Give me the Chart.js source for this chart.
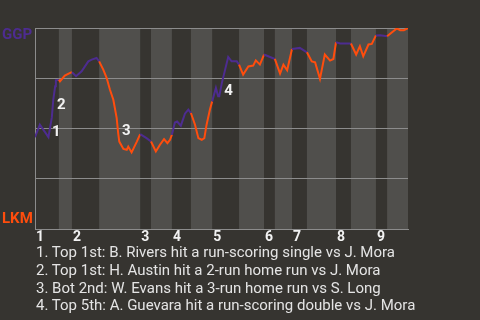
<!DOCTYPE html>
<html>
<head>
<meta charset="utf-8">
<script src="https://cdn.jsdelivr.net/npm/chart.js@4.4.1/dist/chart.umd.min.js"></script>
<style>
  html, body { margin: 0; padding: 0; background: #363430; }
  #wrap { position: relative; width: 480px; height: 320px; overflow: hidden; }
  #notes { position: absolute; left: 36px; top: 244px; font: 15px Roboto, sans-serif; color: #e4e4e4; line-height: 17.8px; white-space: nowrap; }
</style>
</head>
<body>
<div id="wrap">
  <canvas id="wp" width="480" height="320"></canvas>
  <div id="notes"></div>
</div>
<script>
// game progress (0..100) and GGP win probability (%)
const playIdx = [0, 1.3, 3.6, 4.5, 4.9, 5.4, 5.6, 6.4, 6.7, 8.0, 9.4, 9.9, 11.0, 12.5, 14.3, 15.2, 16.5, 17.2,
  18.3, 19.2, 20.1, 21.0, 21.9, 22.3, 22.6, 23.7, 24.6, 25.0, 25.9, 27.3, 28.2, 29.9, 31.1, 32.4, 33.5, 34.6,
  35.5, 36.2, 36.7, 37.5, 38.1, 39.1, 40.2, 41.1, 41.8, 42.9, 43.8, 44.7, 45.4, 46.0, 46.9, 47.5, 48.5, 49.1,
  49.4, 50.1, 51.8, 52.7, 54.1, 54.7, 55.8, 57.2, 58.5, 59.2, 60.3, 61.4, 64.3, 65.7, 66.6, 67.6, 68.9, 71.0,
  72.9, 74.2, 75.1, 76.4, 77.7, 79.1, 80.0, 80.7, 81.8, 84.7, 86.1, 87.1, 88.0, 89.4, 90.3, 91.4, 92.5, 94.4,
  97.0, 97.9, 98.9, 100];
const ggpWinPct = [45.7, 51.9, 45.7, 55.4, 64.3, 71.0, 74.0, 74.3, 73.5, 76.3, 77.7, 78.0, 76.0, 78.5, 83.4, 84.3, 85.1, 83.4,
  79.3, 75.2, 69.3, 64.3, 55.2, 47.7, 43.5, 39.8, 39.4, 41.0, 38.1, 43.5, 47.2, 45.2, 43.5, 38.6, 41.9, 44.7,
  42.7, 44.4, 46.9, 53.0, 53.5, 51.4, 57.4, 59.4, 57.7, 51.9, 45.2, 44.4, 45.2, 51.9, 59.4, 63.5, 70.2, 66.0,
  66.0, 72.7, 85.6, 83.4, 83.4, 81.8, 76.8, 80.9, 81.3, 83.9, 81.8, 86.8, 84.6, 77.3, 81.8, 79.0, 89.6, 90.1,
  87.9, 83.4, 82.9, 74.7, 86.8, 83.8, 84.6, 92.9, 92.3, 92.3, 86.8, 90.9, 85.9, 91.8, 92.1, 96.3, 96.4, 95.9,
  99.8, 98.9, 98.9, 100];

// where each half inning starts (top 1st, bot 1st, top 2nd, ...)
const halfStarts = [0, 6.4, 9.9, 17.2, 28.2, 31.1, 36.7, 41.8, 47.5, 54.7, 61.4, 64.3, 68.9, 72.9, 80.7, 84.7, 91.4, 94.4];
const gameEnd = 100;
const inningLabels = ['1', '2', '3', '4', '5', '6', '7', '8', '9'];

// big plays
const notePlay = [3.75, 5.1, 22.5, 49.9];
const notePct = [47.9, 61.8, 48.4, 68.3];
const noteText = [
  '1. Top 1st: B. Rivers hit a run-scoring single vs J. Mora',
  '2. Top 1st: H. Austin hit a 2-run home run vs J. Mora',
  '3. Bot 2nd: W. Evans hit a 3-run home run vs S. Long',
  '4. Top 5th: A. Guevara hit a run-scoring double vs J. Mora'
];

const AWAY = 'GGP', HOME = 'LKM';
const AWAY_COLOR = '#4d2c90';
const HOME_COLOR = '#ff4d0d';

document.getElementById('notes').innerHTML = noteText.map(t => '<div>' + t + '</div>').join('');

function halfOf(x) {
  let i = 0;
  while (i + 1 < halfStarts.length && x >= halfStarts[i + 1]) i++;
  return i;
}

// shade the bottom half innings, label teams and big plays
const wpDecor = {
  id: 'wpDecor',
  beforeDraw(chart) {
    const {ctx, chartArea: a, scales: {x}} = chart;
    ctx.save();
    ctx.fillStyle = '#504f4c';
    for (let i = 1; i < halfStarts.length; i += 2) {
      const x0 = x.getPixelForValue(halfStarts[i]);
      const x1 = x.getPixelForValue(i + 1 < halfStarts.length ? halfStarts[i + 1] : gameEnd);
      ctx.fillRect(x0, a.top, x1 - x0, a.bottom - a.top);
    }
    ctx.restore();
  },
  afterDatasetsDraw(chart) {
    const {ctx, chartArea: a, scales: {x, y}} = chart;
    ctx.save();
    ctx.font = 'bold 15px Roboto';
    ctx.textBaseline = 'middle';
    ctx.textAlign = 'left';
    ctx.fillStyle = AWAY_COLOR;
    ctx.fillText(AWAY, 2, a.top + 7);
    ctx.fillStyle = HOME_COLOR;
    ctx.fillText(HOME, 2, a.bottom - 10);
    ctx.fillStyle = '#f2f2f2';
    notePlay.forEach((p, i) => {
      ctx.fillText(String(i + 1), x.getPixelForValue(p) + 3, y.getPixelForValue(notePct[i]));
    });
    ctx.restore();
  }
};

new Chart(document.getElementById('wp'), {
  type: 'line',
  data: {
    datasets: [{
      data: playIdx.map((p, i) => ({x: p, y: ggpWinPct[i]})),
      borderWidth: 2,
      pointRadius: 0,
      tension: 0,
      borderColor: AWAY_COLOR,
      segment: {
        borderColor: c => halfOf((c.p0.parsed.x + c.p1.parsed.x) / 2) % 2 === 0 ? AWAY_COLOR : HOME_COLOR
      }
    }]
  },
  options: {
    animation: false,
    responsive: false,
    events: [],
    layout: { padding: { left: 35, top: 28, right: 72, bottom: 71 } },
    plugins: { legend: { display: false }, tooltip: { enabled: false } },
    scales: {
      x: {
        type: 'linear',
        min: 0,
        max: gameEnd,
        afterBuildTicks: s => { s.ticks = halfStarts.filter((v, i) => i % 2 === 0).map(v => ({value: v})); },
        afterFit: s => { s.height = 20; },
        grid: { display: false, drawTicks: false },
        border: { display: true, color: '#8c8c8c', width: 1 },
        ticks: {
          autoSkip: false,
          maxRotation: 0,
          align: 'start',
          labelOffset: 1,
          padding: 0,
          color: '#f2f2f2',
          font: { family: 'Roboto', size: 14, weight: 'bold' },
          callback: (v, i) => inningLabels[i]
        }
      },
      y: {
        min: 0,
        max: 100,
        afterFit: s => { s.width = 0; },
        grid: { color: '#8c8c8c', lineWidth: 1, drawTicks: false },
        border: { display: true, color: '#8c8c8c', width: 1 },
        ticks: { display: false, stepSize: 25 }
      }
    }
  },
  plugins: [wpDecor]
});
</script>
</body>
</html>
